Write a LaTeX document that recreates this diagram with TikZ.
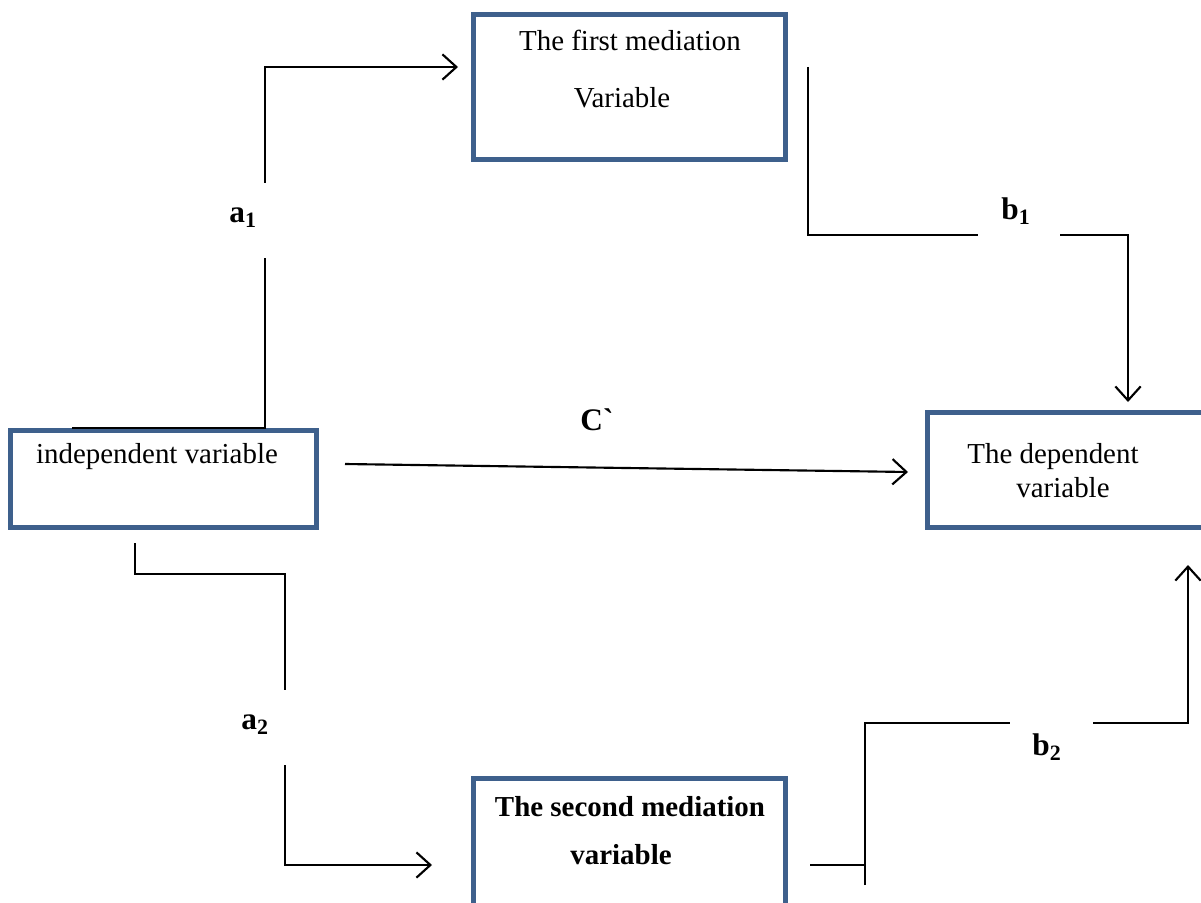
\documentclass[tikz,border=0pt]{standalone}
\usepackage{fontspec}
\setmainfont{Liberation Serif}
\usetikzlibrary{arrows.meta}
\definecolor{boxblue}{RGB}{62,96,140}
\newcommand{\gravemark}{\XeTeXglyph\XeTeXcharglyph"0060\relax}
\tikzset{
  box/.style={draw=boxblue, line width=3.75pt, fill=white, inner sep=0pt, rectangle},
  txt/.style={inner sep=0pt, font=\fontsize{21.7}{25}\selectfont},
  btxt/.style={inner sep=0pt, font=\fontsize{21.7}{25}\selectfont\bfseries},
  lbl/.style={inner sep=0pt, font=\fontsize{23.5}{27}\selectfont\bfseries},
  conn/.style={line width=1.6pt, line join=miter},
  arr/.style={conn, -{Straight Barb[length=10.5pt,width=19pt,line width=1.6pt]}}
}
\begin{document}
\begin{tikzpicture}[x=0.75pt,y=-0.75pt]
\useasboundingbox (0,0) rectangle (1201,902);
\clip (0,0) rectangle (1201,902);
% boxes
\node[box, minimum width=234pt, minimum height=108.75pt] (m1) at (629,87.5) {};
\node[box, minimum width=229.5pt, minimum height=72.75pt] (iv) at (163,478.5) {};
\node[box, minimum width=214.5pt, minimum height=86.25pt] (dv) at (1070,469.5) {};
\node[box, minimum width=234pt, minimum height=114pt] (m2) at (629,854) {};
% box texts
\node[txt] (t1a) at (630,40) {The first mediation};
\node[txt] (t1b) at (622,98) {Variable};
\node[txt] (t2) at (157,457) {independent variable};
\node[txt] (t3a) at (1053,457) {The dependent};
\node[txt] (t3b) at (1063,488) {variable};
\node[btxt] (t4a) at (630,807) {The second mediation};
\node[btxt] (t4b) at (621,855) {variable};
% labels
\node[lbl] (la1) at (243,218) {a\textsubscript{1}};
\node[lbl] (lb1) at (1016,211) {b\textsubscript{1}};
\node[lbl] (lc) at (597,420) {C\gravemark};
\node[lbl] (la2) at (255,725) {a\textsubscript{2}};
\node[lbl] (lb2) at (1047,747) {b\textsubscript{2}};
% coordinates
\coordinate (a1s) at (72,428);
\coordinate (a1c) at (265,428);
\coordinate (a1g1) at (265,258);
\coordinate (a1g2) at (265,183);
\coordinate (a1t) at (265,67);
\coordinate (a1e) at (458,67);
\coordinate (b1s) at (808,67);
\coordinate (b1c) at (808,235);
\coordinate (b1g1) at (978,235);
\coordinate (b1g2) at (1060,235);
\coordinate (b1t) at (1128,235);
\coordinate (b1e) at (1128,402);
\coordinate (cs) at (345,464);
\coordinate (ce) at (908,472);
\coordinate (a2s) at (135,543);
\coordinate (a2c1) at (135,574);
\coordinate (a2c2) at (285,574);
\coordinate (a2g1) at (285,690);
\coordinate (a2g2) at (285,765);
\coordinate (a2c3) at (285,865);
\coordinate (a2e) at (432,865);
\coordinate (b2s) at (810,865);
\coordinate (b2v) at (865,865);
\coordinate (b2vb) at (865,885);
\coordinate (b2vt) at (865,723);
\coordinate (b2g1) at (1010,723);
\coordinate (b2g2) at (1093,723);
\coordinate (b2c) at (1188,723);
\coordinate (b2e) at (1188,565);
% connectors
\draw[conn] (a1s) -- (a1c) -- (a1g1);
\draw[arr] (a1g2) -- (a1t) -- (a1e);
\draw[conn] (b1s) -- (b1c) -- (b1g1);
\draw[arr] (b1g2) -- (b1t) -- (b1e);
\draw[arr] (cs) -- (ce);
\draw[conn] (a2s) -- (a2c1) -- (a2c2) -- (a2g1);
\draw[arr] (a2g2) -- (a2c3) -- (a2e);
\draw[conn] (b2s) -- (b2v);
\draw[conn] (b2vb) -- (b2vt) -- (b2g1);
\draw[arr] (b2g2) -- (b2c) -- (b2e);
\end{tikzpicture}
\end{document}
